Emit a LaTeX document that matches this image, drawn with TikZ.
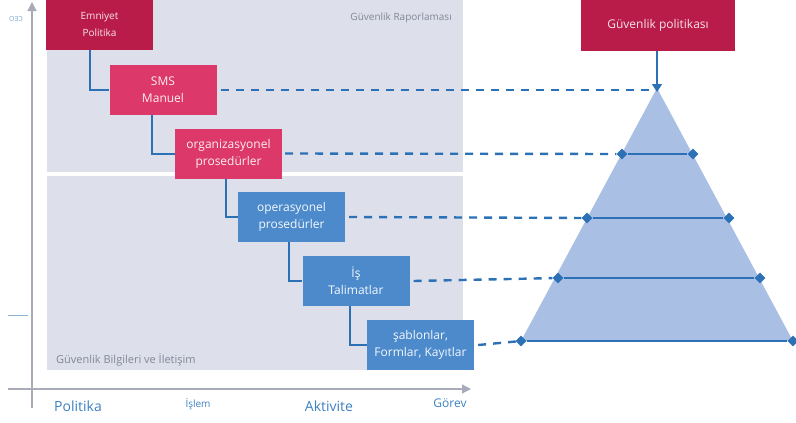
\documentclass[tikz,border=0pt]{standalone}
\usepackage{fontspec}
\setmainfont{Open Sans}
\usetikzlibrary{arrows.meta,shapes.geometric}

\definecolor{panelgrey}{RGB}{221,224,235}
\definecolor{crimson}{RGB}{186,28,74}
\definecolor{rosered}{RGB}{220,56,106}
\definecolor{boxblue}{RGB}{76,138,204}
\definecolor{linkblue}{RGB}{44,112,182}
\definecolor{pyrfill}{RGB}{170,191,228}
\definecolor{axisgrey}{RGB}{168,172,184}
\definecolor{labelgrey}{RGB}{130,134,150}
\definecolor{axislabel}{RGB}{60,128,192}

\tikzset{
  levelbox/.style={rectangle, minimum width=107pt, minimum height=50pt,
    inner sep=0pt, align=center, font=\fontsize{12}{17}\selectfont},
  redbox/.style={levelbox, fill=rosered, text=white!92!rosered},
  darkbox/.style={levelbox, fill=crimson, text=white!88!crimson},
  bluebox/.style={levelbox, fill=boxblue, text=white!94!boxblue},
  elbow/.style={draw=linkblue, line width=2pt},
  levelline/.style={draw=linkblue, line width=2.4pt, dash pattern=on 8pt off 7pt},
  rung/.style={draw=linkblue, line width=2pt},
  marker/.style={diamond, fill=linkblue, inner sep=0pt, minimum size=11pt},
  axis/.style={draw=axisgrey, line width=1.2pt, -{Triangle[length=9pt,width=9pt]}},
  axistext/.style={text=axislabel, inner sep=0pt}
}

\begin{document}
\begin{tikzpicture}[x=1pt,y=-1pt]
  \useasboundingbox (0,0) rectangle (796,423);

  % background panels
  \fill[panelgrey] (47,0) rectangle (463,172);
  \fill[panelgrey] (47,176) rectangle (463,370);
  \node[anchor=base east, text=labelgrey, font=\fontsize{10}{12}\selectfont, inner sep=0pt]
    (report) at (452,20) {Güvenlik Raporlaması};
  \node[anchor=base west, text=labelgrey, font=\fontsize{11}{13}\selectfont, inner sep=0pt]
    (comm) at (56,363) {Güvenlik Bilgileri ve İletişim};

  % axes
  \coordinate (ybot) at (32,408);
  \coordinate (ytop) at (32,2);
  \coordinate (xleft) at (8,389);
  \coordinate (xright) at (471,389);
  \draw[axis] (ybot) -- (ytop);
  \draw[axis] (xleft) -- (xright);
  \node[text=axislabel!70, font=\fontsize{7}{8}\selectfont, inner sep=0pt] (ceo) at (16,19) {\reflectbox{CEO}};
  \coordinate (tickA) at (8,315);
  \coordinate (tickB) at (28,315);
  \draw[axislabel!60, line width=0.8pt] (tickA) -- (tickB);

  \node[axistext, anchor=base, font=\fontsize{14}{16}\selectfont] (ax1) at (78,411) {Politika};
  \node[axistext, anchor=base, font=\fontsize{10}{12}\selectfont] (ax2) at (198,407) {İşlem};
  \node[axistext, anchor=base, font=\fontsize{14}{16}\selectfont] (ax3) at (329,411) {Aktivite};
  \node[axistext, anchor=base, font=\fontsize{12}{14}\selectfont] (ax4) at (450,407) {Görev};

  % document hierarchy boxes
  \node[darkbox, font=\fontsize{10}{17}\selectfont] (b1) at (99.5,24.5) {Emniyet\\Politika};
  \node[redbox] (b2) at (163,90) {SMS\\Manuel};
  \node[redbox] (b3) at (228.5,153.5) {organizasyonel\\prosedürler};
  \node[bluebox] (b4) at (291.5,217) {operasyonel\\prosedürler};
  \node[bluebox] (b5) at (356,281) {İş\\Talimatlar};
  \node[bluebox] (b6) at (420.5,345) {şablonlar,\\Formlar, Kayıtlar};

  % elbow connectors
  \draw[elbow] (b1.south -| 90,0) |- (b2.west);
  \draw[elbow] (b2.south -| 152,0) |- (b3.west);
  \draw[elbow] (b3.south -| 226,0) |- (b4.west);
  \draw[elbow] (b4.south -| 289,0) |- (b5.west);
  \draw[elbow] (b5.south -| 350,0) |- (b6.west);

  % pyramid
  \coordinate (apex) at (657,88);
  \fill[pyrfill] (apex) -- (521,341) -- (793,341) -- cycle;

  \node[marker] (l3) at (622,154) {};
  \node[marker] (r3) at (693,154) {};
  \node[marker] (l4) at (587,218) {};
  \node[marker] (r4) at (729,218) {};
  \node[marker] (l5) at (558,278) {};
  \node[marker] (r5) at (760,278) {};
  \node[marker] (l6) at (521,341) {};
  \node[marker] (r6) at (793,341) {};

  \draw[rung] (l3) -- (r3);
  \draw[rung] (l4) -- (r4);
  \draw[rung] (l5) -- (r5);
  \draw[rung] (l6) -- (r6);

  % dashed level links
  \draw[levelline] ([xshift=4pt]b2.east) -- ([xshift=-4pt]apex |- b2.east);
  \draw[levelline] ([xshift=3pt]b3.east) -- (l3);
  \draw[levelline] ([xshift=4pt]b4.east) -- (l4);
  \draw[levelline] ([xshift=4pt]b5.east) -- (l5);
  \draw[levelline] ([xshift=4pt]b6.east) -- (l6);

  % policy box and arrow
  \node[darkbox, minimum width=154pt, minimum height=51pt] (pol) at (658,25.5) {Güvenlik politikası};
  \draw[draw=linkblue, line width=1.6pt, -{Triangle[length=8pt,width=10pt]}] (pol.south -| apex) -- ([yshift=-4pt]apex);
\end{tikzpicture}
\end{document}
